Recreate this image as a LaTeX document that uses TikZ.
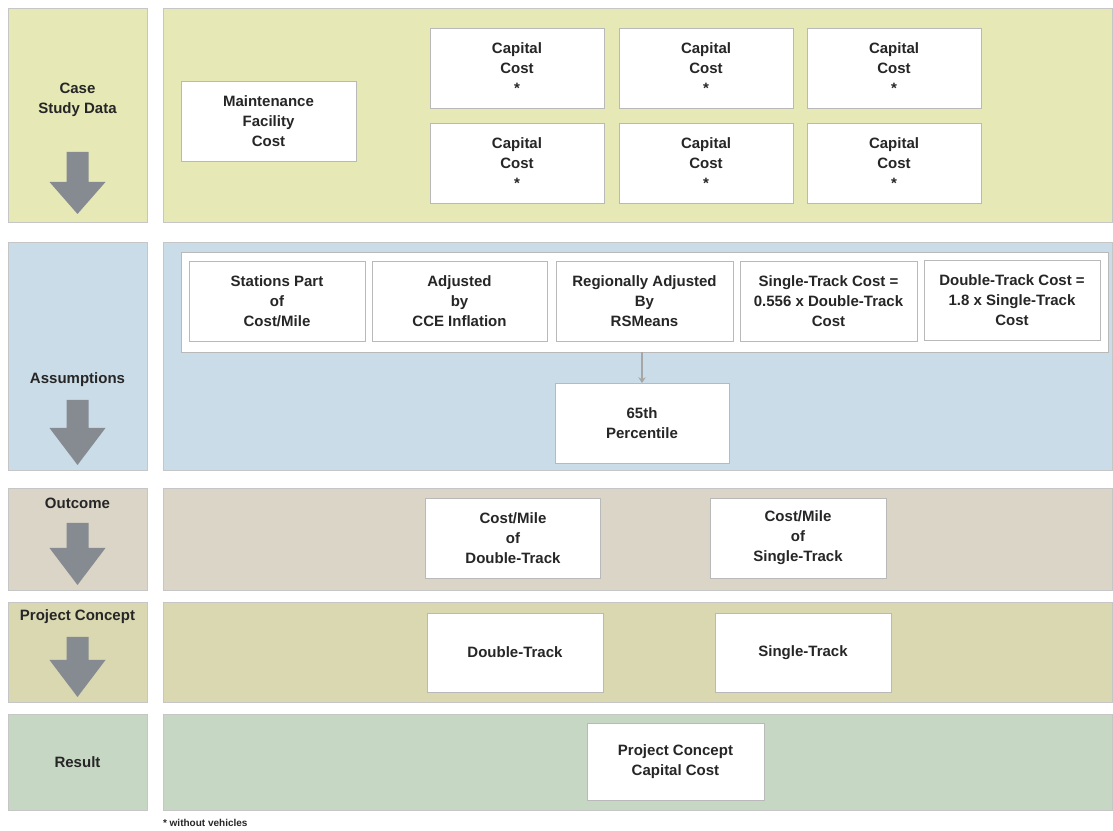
\documentclass[tikz,border=0pt]{standalone}
\usepackage{fontspec}
\setmainfont{Liberation Sans}
\usepackage{xcolor}
\usepackage{tikz}
\usetikzlibrary{positioning,arrows.meta}
\definecolor{cse}{RGB}{230,232,182}
\definecolor{asm}{RGB}{202,220,232}
\definecolor{otc}{RGB}{218,213,198}
\definecolor{prj}{RGB}{217,216,177}
\definecolor{rsl}{RGB}{198,215,195}
\definecolor{arrg}{RGB}{134,139,146}

\begin{document}
\begin{tikzpicture}[x=0.7pt,y=-0.7pt,font=\fontsize{10.5}{14}\selectfont\bfseries,
  wbox/.style={draw=gray!55,fill=white,line width=0.5pt,inner sep=0pt,outer sep=0pt,align=center,text=black!85,minimum width=122.5pt,minimum height=56pt},
  pnl/.style={draw=gray!45,line width=0.6pt},
  lbl/.style={align=center,text=black!85},
  blk/.style={fill=arrg,draw=none}]
  \useasboundingbox (0,0) rectangle (1113,831);
  % bands: label column and panels
  \filldraw[pnl,fill=cse] (8,8) rectangle (147,222);
  \filldraw[pnl,fill=cse] (163,8) rectangle (1112,222);
  \filldraw[pnl,fill=asm] (8,242) rectangle (147,470);
  \filldraw[pnl,fill=asm] (163,242) rectangle (1112,470);
  \filldraw[pnl,fill=otc] (8,488) rectangle (147,590);
  \filldraw[pnl,fill=otc] (163,488) rectangle (1112,590);
  \filldraw[pnl,fill=prj] (8,602) rectangle (147,702);
  \filldraw[pnl,fill=prj] (163,602) rectangle (1112,702);
  \filldraw[pnl,fill=rsl] (8,714) rectangle (147,810);
  \filldraw[pnl,fill=rsl] (163,714) rectangle (1112,810);
  % row labels
  \node[lbl] (lcase) at (77.5,100) {Case\\Study Data};
  \node[lbl] (lasm) at (77.5,380) {Assumptions};
  \node[lbl] (lotc) at (77.5,503) {Outcome};
  \node[lbl] (lprj) at (77.5,617) {Project Concept};
  \node[lbl] (lrsl) at (77.5,762) {Result};
  \foreach \s/\h/\t in {152/182/214,400/428/465,523/548/585,637/660/697}
    \fill[blk] (66.5,\s) -- (88.5,\s) -- (88.5,\h) -- (105.5,\h) -- (77.5,\t) -- (49.5,\h) -- (66.5,\h) -- cycle;
  % case study data
  \node[wbox] (mfc) at (268.5,121) {Maintenance\\Facility\\Cost};
  \node[wbox,minimum width=121.8pt] (cc1) at (517,68) {Capital\\Cost\\*};
  \node[wbox,minimum width=121.8pt] (cc2) at (706,68) {Capital\\Cost\\*};
  \node[wbox,minimum width=121.8pt] (cc3) at (894,68) {Capital\\Cost\\*};
  \node[wbox,minimum width=121.8pt] (cc4) at (517,163) {Capital\\Cost\\*};
  \node[wbox,minimum width=121.8pt] (cc5) at (706,163) {Capital\\Cost\\*};
  \node[wbox,minimum width=121.8pt] (cc6) at (894,163) {Capital\\Cost\\*};
  % assumptions
  \node[wbox,minimum width=648.9pt,minimum height=70pt] (frame) at (644.5,302) {};
  \node[wbox,minimum width=123.2pt] (stn) at (277,301) {Stations Part\\of\\Cost/Mile};
  \node[wbox] (cce) at (459.5,301) {Adjusted\\by\\CCE Inflation};
  \node[wbox,minimum width=123.9pt] (rsm) at (644.5,301) {Regionally Adjusted\\By\\RSMeans};
  \node[wbox,minimum width=123.9pt] (stc) at (828.5,301) {Single-Track Cost =\\0.556 x Double-Track\\Cost};
  \node[wbox,minimum width=123.2pt] (dtc) at (1012,300) {Double-Track Cost =\\1.8 x Single-Track\\Cost};
  \node[wbox,minimum width=121.8pt] (pct) at (642,423) {65th\\Percentile};
  \draw[gray!70,line width=1.2pt,-{Stealth[length=1.4mm,width=1.8mm]}] (pct.north |- frame.south) -- (pct.north);
  % outcome
  \node[wbox] (cmd) at (513,538) {Cost/Mile\\of\\Double-Track};
  \node[wbox,minimum width=123.2pt] (cms) at (798,538) {Cost/Mile\\of\\Single-Track};
  % project concept
  \node[wbox,minimum width=123.2pt,minimum height=55.3pt] (dtr) at (515,652.5) {Double-Track};
  \node[wbox,minimum width=123.2pt,minimum height=55.3pt] (str) at (803,652.5) {Single-Track};
  % result
  \node[wbox,minimum width=123.9pt,minimum height=53.9pt] (pcc) at (675.5,761.5) {Project Concept\\Capital Cost};
  \node[anchor=west,text=black!85,font=\fontsize{7}{8}\selectfont\bfseries] (fn) at (158,823) {* without vehicles};
\end{tikzpicture}
\end{document}
